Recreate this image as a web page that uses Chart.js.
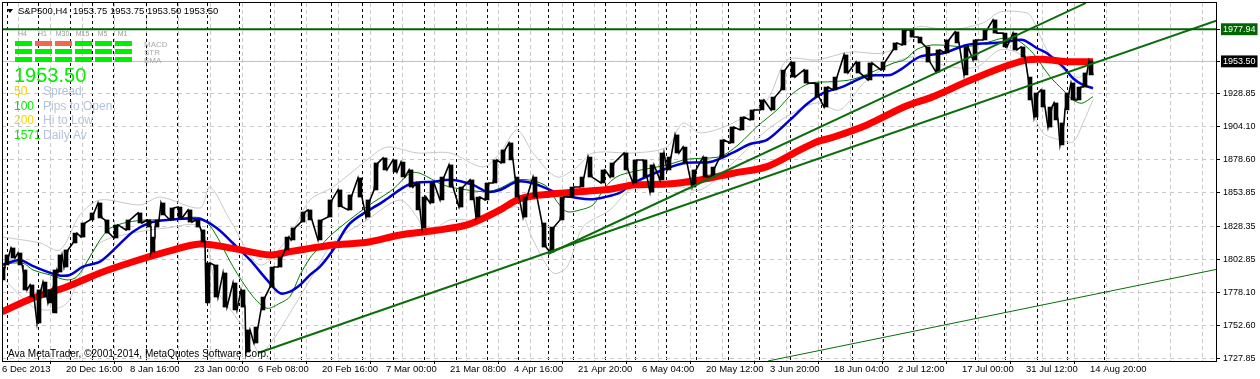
<!DOCTYPE html>
<html>
<head>
<meta charset="utf-8">
<title>S&amp;P500,H4</title>
<script src="https://cdn.jsdelivr.net/npm/chart.js@4.4.1/dist/chart.umd.min.js"></script>
<style>
  html, body { margin: 0; padding: 0; background: #fff; }
  #wrap { width: 1260px; height: 379px; }
</style>
</head>
<body>
<div id="wrap"><canvas id="chart" width="1260" height="379"></canvas></div>
<script>
// S&P500 H4 chart, MetaTrader style. x = bar position, y = price.

const timeLabels = ['6 Dec 2013', '20 Dec 16:00', '8 Jan 16:00', '23 Jan 00:00', '6 Feb 08:00',
    '20 Feb 16:00', '7 Mar 00:00', '21 Mar 08:00', '4 Apr 16:00', '21 Apr 20:00', '6 May 04:00',
    '20 May 12:00', '3 Jun 20:00', '18 Jun 04:00', '2 Jul 12:00', '17 Jul 00:00', '31 Jul 12:00',
    '14 Aug 20:00'];
const timeLabelBars = [2, 66, 130, 194, 258, 322, 386, 450, 514, 578, 642, 706, 770, 834, 898, 962, 1026, 1090];

// weekly period separators
const weekStarts = [7, 38, 70, 92, 113, 146, 177, 207, 239, 270, 301, 331, 362, 393, 424, 456, 487,
    518, 548, 573, 605, 635, 667, 697, 728, 759, 790, 821, 852, 883, 913, 944, 976, 1006, 1037, 1067, 1104];

const priceTicks = [1727.85, 1752.60, 1778.10, 1802.85, 1828.35, 1853.85, 1878.60, 1904.10, 1928.85];
const bidPrice = 1953.50;
const levelPrice = 1977.94;

// price: high / low of each group of bars
const priceBar = [3, 7, 13, 20, 25, 32, 39, 45, 50, 55,
    60, 66, 75, 83, 92, 100, 107, 116, 128, 140,
    149, 153, 157, 163, 172, 180, 190, 198, 203, 208,
    216, 225, 235, 243, 248, 256, 263, 272, 280, 287,
    293, 303, 310, 320, 330, 340, 350, 360, 368, 376,
    385, 395, 403, 411, 418, 424, 432, 442, 451, 461,
    472, 478, 487, 495, 503, 511, 517, 525, 535, 544,
    552, 562, 572, 582, 590, 603, 612, 626, 635, 645,
    652, 662, 669, 677, 685, 694, 705, 713, 722, 732,
    742, 752, 762, 773, 783, 793, 806, 817, 826, 835,
    846, 858, 870, 883, 895, 904, 912, 920, 928, 938,
    947, 957, 966, 975, 985, 995, 1005, 1015, 1023, 1030,
    1036, 1043, 1050, 1056, 1062, 1067, 1073, 1079, 1085, 1091];
const priceHigh = [1797.2, 1806.4, 1811.7, 1807.9, 1795.0, 1783.6, 1779.8, 1785.8, 1779.8, 1795.0,
    1806.4, 1810.2, 1823.0, 1830.7, 1838.3, 1845.9, 1833.0, 1829.2, 1833.0, 1838.3,
    1833.0, 1820.0, 1833.0, 1845.9, 1842.1, 1842.8, 1840.6, 1833.0, 1825.4, 1800.3,
    1798.8, 1792.7, 1785.1, 1779.8, 1749.4, 1751.6, 1774.4, 1797.2, 1804.8, 1820.0,
    1826.9, 1839.0, 1840.6, 1833.0, 1848.2, 1855.8, 1852.0, 1864.9, 1848.2, 1876.3,
    1880.1, 1878.6, 1877.0, 1871.0, 1861.1, 1850.4, 1861.1, 1865.6, 1874.8, 1858.0,
    1863.4, 1850.4, 1861.1, 1878.6, 1886.2, 1891.5, 1865.6, 1850.4, 1865.6, 1830.7,
    1827.6, 1850.4, 1858.0, 1865.6, 1880.8, 1871.0, 1876.3, 1883.9, 1878.6, 1878.6,
    1874.8, 1883.9, 1880.8, 1897.6, 1888.4, 1871.0, 1880.8, 1873.2, 1893.8, 1903.6,
    1911.2, 1916.6, 1924.2, 1926.4, 1946.9, 1953.0, 1947.0, 1937.0, 1934.0, 1941.6,
    1958.4, 1953.0, 1952.3, 1953.0, 1967.5, 1977.4, 1977.4, 1972.0, 1964.5, 1962.2,
    1969.8, 1975.9, 1964.5, 1969.8, 1977.4, 1985.0, 1975.0, 1975.0, 1964.5, 1941.6,
    1929.5, 1931.8, 1918.8, 1921.9, 1906.7, 1929.5, 1937.1, 1934.0, 1944.7, 1953.8];
const priceLow = [1787.4, 1798.8, 1804.1, 1798.8, 1779.8, 1774.4, 1754.7, 1774.4, 1769.9, 1762.3,
    1793.4, 1797.2, 1815.5, 1820.0, 1833.0, 1834.5, 1823.0, 1819.3, 1825.4, 1830.7,
    1827.6, 1808.6, 1827.6, 1836.8, 1833.0, 1834.5, 1831.4, 1827.6, 1816.2, 1769.9,
    1774.4, 1766.8, 1764.6, 1766.8, 1732.6, 1739.5, 1764.6, 1782.0, 1797.2, 1810.2,
    1817.8, 1831.4, 1833.0, 1817.8, 1835.2, 1843.0, 1840.6, 1850.4, 1835.2, 1855.8,
    1871.0, 1869.4, 1865.7, 1858.0, 1840.6, 1826.9, 1845.9, 1848.2, 1858.0, 1842.8,
    1848.2, 1835.2, 1848.2, 1861.1, 1876.3, 1878.6, 1850.4, 1835.2, 1850.4, 1812.4,
    1808.6, 1833.0, 1850.4, 1858.0, 1865.6, 1861.1, 1865.6, 1871.0, 1861.1, 1865.6,
    1854.2, 1863.4, 1871.0, 1883.9, 1876.3, 1858.0, 1865.6, 1865.6, 1880.8, 1891.5,
    1901.4, 1909.0, 1916.6, 1916.6, 1931.8, 1941.6, 1937.0, 1926.4, 1918.8, 1931.8,
    1944.7, 1944.7, 1939.4, 1947.0, 1962.2, 1966.0, 1972.0, 1967.5, 1953.0, 1945.4,
    1959.9, 1967.5, 1943.2, 1954.6, 1969.8, 1975.0, 1964.5, 1962.2, 1956.8, 1924.2,
    1911.2, 1918.8, 1903.6, 1909.0, 1890.0, 1916.6, 1924.2, 1924.2, 1934.0, 1943.2];

// slow moving average (thick red)
const slowMaBar = [2, 33, 67, 100, 133, 167, 200, 233, 270, 290, 310, 333, 367, 400, 433, 467, 500, 517,
    533, 567, 610, 633, 667, 700, 733, 767, 800, 817, 833, 867, 905, 933, 967, 1000, 1027, 1043, 1067, 1093];
const slowMa = [1763.2, 1773.7, 1782.3, 1792.7, 1801.2, 1808.9, 1814.7, 1811.4, 1806.4, 1808.9, 1811.4,
    1814.0, 1816.0, 1821.6, 1824.8, 1829.2, 1840.6, 1848.2, 1851.2, 1853.7, 1856.3, 1859.6, 1860.3,
    1863.4, 1868.5, 1873.5, 1886.2, 1892.4, 1895.8, 1905.2, 1919.2, 1926.7, 1938.1, 1948.3, 1954.6,
    1955.1, 1953.3, 1953.3];

// fast moving average (blue)
const fastMaBar = [2, 20, 33, 57, 70, 83, 100, 117, 133, 150, 167, 200, 217, 233, 250, 267, 280, 290, 300, 310,
    320, 333, 350, 383, 410, 433, 453, 473, 487, 500, 517, 533, 550, 567, 590, 605, 620, 633, 667, 687,
    710, 733, 750, 767, 790, 807, 823, 843, 867, 890, 900, 920, 943, 967, 990, 1007, 1023, 1037, 1047, 1063,
    1073, 1083, 1093];
const fastMa = [1798.8, 1802.6, 1797.9, 1791.2, 1791.2, 1797.5, 1801.3, 1812.7, 1824.1, 1830.9,
    1833.0, 1833.7, 1826.7, 1815.3, 1802.6, 1787.4, 1777.3, 1778.5, 1783.6, 1791.2,
    1797.5, 1810.2, 1830.5, 1846.9, 1860.3, 1862.1, 1863.4, 1859.6, 1854.5, 1855.8,
    1862.1, 1860.9, 1855.8, 1851.2, 1848.7, 1850.4, 1853.7, 1860.9, 1872.3, 1876.5,
    1877.0, 1884.1, 1890.7, 1893.8, 1909.0, 1921.1, 1929.3, 1934.3, 1942.4, 1943.2,
    1947.0, 1957.1, 1959.7, 1966.0, 1967.3, 1968.5, 1969.8, 1963.5, 1959.7, 1949.5,
    1940.7, 1935.6, 1933.1];

// short moving average (thin green)
const midMaBar = [2, 23, 33, 50, 67, 77, 90, 100, 110, 127, 147, 167, 200, 213, 233, 253, 267, 280, 290, 300,
    310, 317, 333, 367, 393, 410, 420, 443, 467, 487, 500, 517, 533, 547, 557, 567, 580, 593, 605, 617,
    633, 667, 687, 717, 727, 740, 757, 777, 793, 810, 833, 853, 877, 893, 905, 917, 933, 967, 990, 1003,
    1017, 1033, 1050, 1063, 1073, 1082, 1093];
const midMa = [1799.5, 1800.1, 1795.0, 1791.2, 1787.4, 1789.9, 1805.1, 1817.8, 1826.7, 1831.2,
    1833.0, 1833.0, 1834.7, 1825.4, 1797.5, 1774.7, 1765.9, 1769.7, 1774.7, 1791.2,
    1804.1, 1810.2, 1822.9, 1843.1, 1856.3, 1868.5, 1868.5, 1859.6, 1855.8, 1854.5,
    1857.1, 1863.4, 1862.8, 1858.3, 1846.9, 1839.3, 1840.6, 1844.4, 1857.7, 1865.9,
    1869.7, 1874.8, 1879.1, 1880.6, 1883.7, 1891.3, 1903.9, 1916.6, 1929.3, 1936.9,
    1938.1, 1939.9, 1947.0, 1952.1, 1954.9, 1962.7, 1966.0, 1964.7, 1968.5, 1971.1,
    1969.8, 1959.7, 1941.9, 1931.8, 1924.2, 1921.7, 1926.7];

// envelope bands (light grey)
const upperBandBar = [2, 40, 60, 80, 100, 140, 160, 200, 210, 230, 260, 290, 310, 333, 367, 387, 417, 450, 483, 500,
    517, 533, 557, 577, 593, 633, 667, 683, 700, 733, 767, 787, 817, 850, 883, 910, 917, 950, 983, 1000,
    1027, 1033, 1047, 1067, 1080, 1093];
const upperBand = [1820.1, 1815.5, 1810.2, 1836.8, 1848.2, 1844.4, 1850.4, 1842.1, 1858.0, 1833.0,
    1798.8, 1821.6, 1848.2, 1858.0, 1878.6, 1888.4, 1883.9, 1883.9, 1873.2, 1883.9,
    1901.4, 1883.9, 1865.6, 1873.2, 1883.9, 1883.9, 1888.4, 1906.7, 1899.1, 1906.7,
    1924.2, 1954.6, 1954.6, 1960.6, 1959.9, 1969.8, 1979.7, 1977.4, 1982.7, 1991.0,
    1990.3, 1985.0, 1962.2, 1944.7, 1941.6, 1952.3];
const lowerBandBar = [2, 33, 50, 67, 83, 100, 133, 167, 200, 217, 233, 250, 260, 273, 290, 310, 333, 367, 400, 417,
    427, 450, 483, 517, 533, 553, 567, 583, 610, 633, 667, 700, 733, 767, 793, 817, 840, 867, 910, 950,
    977, 1000, 1023, 1033, 1043, 1060, 1073, 1083, 1093];
const lowerBand = [1789.7, 1766.8, 1764.6, 1769.9, 1795.0, 1815.5, 1823.1, 1826.9, 1827.6, 1779.8,
    1762.3, 1744.0, 1731.9, 1741.8, 1762.3, 1787.4, 1815.5, 1833.0, 1848.2, 1835.2,
    1823.1, 1833.0, 1833.0, 1842.8, 1817.8, 1792.7, 1797.2, 1827.6, 1840.6, 1858.0,
    1861.1, 1855.8, 1876.3, 1901.4, 1914.3, 1921.9, 1916.6, 1939.4, 1956.8, 1949.3,
    1949.3, 1962.2, 1956.8, 1916.6, 1899.1, 1893.8, 1892.2, 1906.7, 1924.2];

// trend lines: [bar, price] at both ends
const supportLine = [[258, 1731.9], [1217, 1984.6]];
const steepLine = [[548, 1807.1], [1086, 1997.9]];
const lowLine = [[768, 1725.8], [1217, 1795.5]];

// info panel
const timeframes = ['H4', 'H1', 'M30', 'M15', 'M5', 'M1'];
const signalNames = ['MACD', 'STR', 'EMA'];
const signalStates = [[1, 0, 0, 1, 1, 1], [1, 1, 1, 1, 1, 1], [1, 1, 1, 1, 1, 1]];
const headerText = 'S&P500,H4  1953.75 1953.75 1953.50 1953.50';
const statRows = [['50', 'Spread', '#ffd200'], ['100', 'Pips to Open', '#00ee00'],
    ['200', 'Hi to Low', '#ffd200'], ['1571', 'Daily Av', '#00ee00']];

const barMin = 2, barMax = 1217;
const priceMin = 1725.8, priceMax = 1997.87;

const toPoints = (bars, vals) => bars.map((b, i) => ({ x: b, y: vals[i] }));
const pairPoints = line => line.map(([b, v]) => ({ x: b, y: v }));

// zigzag through each group's range so the trace reads like dense OHLC bars
const priceTrace = [];
priceBar.forEach((b, i) => {
    const mid = (priceHigh[i] + priceLow[i]) / 2;
    const nextMid = i + 1 < priceBar.length ? (priceHigh[i + 1] + priceLow[i + 1]) / 2 : mid;
    const up = nextMid > mid;
    priceTrace.push({ x: b - 2, y: up ? priceLow[i] : priceHigh[i] });
    priceTrace.push({ x: b + 2, y: up ? priceHigh[i] : priceLow[i] });
});

function lineSet(label, data, color, width, order, extra) {
    return Object.assign({
        type: 'line', label, data, borderColor: color, borderWidth: width,
        pointRadius: 0, fill: false, tension: 0, order
    }, extra || {});
}

const trendGreen = '#0b6e0b';
const sans = '"Liberation Sans", Arial, sans-serif';
const xFont = { family: sans, size: 9.5, lineHeight: 1 };
const yFont = { family: sans, size: 9, lineHeight: 1.1 };
const isMarked = v => v === bidPrice || v === levelPrice;

const panelPlugin = {
    id: 'mtPanel',
    afterDatasetsDraw(chart) {
        const { ctx, chartArea: a } = chart;
        ctx.save();

        ctx.strokeStyle = '#000';
        ctx.lineWidth = 1;
        ctx.strokeRect(a.left + 0.5, a.top - 0.5, a.right - a.left - 1, a.bottom - a.top + 1);

        // header
        ctx.fillStyle = '#000';
        ctx.beginPath();
        ctx.moveTo(7, 9); ctx.lineTo(13, 9); ctx.lineTo(10, 13);
        ctx.closePath(); ctx.fill();
        ctx.font = '9.5px ' + sans;
        ctx.textBaseline = 'alphabetic';
        ctx.fillText(headerText, 18, 14);

        // signal matrix
        ctx.font = '7px ' + sans;
        ctx.fillStyle = '#9a9a9a';
        ctx.textAlign = 'center';
        timeframes.forEach((tf, c) => ctx.fillText(tf, 22.5 + 20 * c, 36));
        signalStates.forEach((row, r) => {
            row.forEach((s, c) => {
                ctx.fillStyle = s ? '#00ee00' : '#f2684a';
                ctx.fillRect(15 + 20 * c, 41 + 8 * r, 17, 5);
            });
        });
        ctx.textAlign = 'left';
        ctx.fillStyle = '#a8a8a8';
        ctx.font = '8px ' + sans;
        signalNames.forEach((n, r) => ctx.fillText(n, 144, 46.5 + 8 * r));

        // big bid
        ctx.font = '20px ' + sans;
        ctx.fillStyle = '#00ee00';
        ctx.fillText(bidPrice.toFixed(2), 14, 82);

        ctx.font = '12px ' + sans;
        statRows.forEach(([num, text, color], r) => {
            const y = 95 + 14.7 * r;
            ctx.fillStyle = color;
            ctx.fillText(num, 14, y);
            ctx.fillStyle = '#b4c4de';
            ctx.fillText(text, 43, y);
        });

        ctx.font = '10px ' + sans;
        ctx.fillStyle = '#000';
        ctx.fillText('Ava MetaTrader, \u00a92001-2014, MetaQuotes Software Corp.', 8, 357);
        ctx.restore();
    }
};

const datasets = [
    lineSet('Level', [{ x: barMin, y: levelPrice }, { x: barMax, y: levelPrice }], '#006400', 2, 0),
    lineSet('Support', pairPoints(supportLine), trendGreen, 2, 0),
    lineSet('Steep', pairPoints(steepLine), trendGreen, 2, 0),
    lineSet('Low', pairPoints(lowLine), trendGreen, 1, 0),
    lineSet('Price', priceTrace, '#000', 1.6, 1),
    {
        type: 'bar', label: 'Range', order: 1,
        data: priceBar.map((b, i) => ({ x: b, y: [priceLow[i], priceHigh[i]] })),
        backgroundColor: '#000', barThickness: 4, grouped: false
    },
    lineSet('Slow MA', toPoints(slowMaBar, slowMa), '#ff0000', 7, 2, { tension: 0.3 }),
    lineSet('Fast MA', toPoints(fastMaBar, fastMa), '#0000d0', 2.5, 3, { tension: 0.3 }),
    lineSet('Mid MA', toPoints(midMaBar, midMa), '#008000', 1, 4, { tension: 0.3 }),
    lineSet('Upper', toPoints(upperBandBar, upperBand), '#c8c8c8', 1, 5, { tension: 0.3 }),
    lineSet('Lower', toPoints(lowerBandBar, lowerBand), '#c8c8c8', 1, 5, { tension: 0.3 }),
    lineSet('Bid', [{ x: barMin, y: bidPrice }, { x: barMax, y: bidPrice }], '#c0c0c0', 1, 6)
];

const gridBars = [];
for (let v = timeLabelBars[0]; v < barMax; v += (timeLabelBars[1] - timeLabelBars[0]) / 2) gridBars.push(v);

new Chart(document.getElementById('chart').getContext('2d'), {
    type: 'line',
    data: { datasets },
    plugins: [panelPlugin],
    options: {
        responsive: false,
        animation: false,
        layout: { padding: { left: 2, top: 3, right: 0, bottom: 0 } },
        plugins: { legend: { display: false }, tooltip: { enabled: false } },
        scales: {
            x: {
                type: 'linear', min: barMin, max: barMax, offset: false,
                afterBuildTicks: s => { s.ticks = gridBars.map(v => ({ value: v })); },
                afterFit: s => { s.height = 18; s.paddingLeft = 0; s.paddingRight = 0; },
                grid: {
                    color: '#c8c8c8', lineWidth: 1, drawTicks: true, tickLength: 3,
                    tickColor: ctx => timeLabelBars.includes(ctx.tick && ctx.tick.value) ? '#000' : 'rgba(0,0,0,0)',
                    tickBorderDash: []
                },
                border: { display: false, dash: [4, 3] },
                ticks: {
                    autoSkip: false, maxRotation: 0, align: 'start', padding: 1, color: '#000', font: xFont,
                    callback: v => {
                        const i = timeLabelBars.indexOf(v);
                        return i >= 0 ? timeLabels[i] : '';
                    }
                }
            },
            weeks: {
                type: 'linear', position: 'bottom', min: barMin, max: barMax, offset: false,
                afterBuildTicks: s => { s.ticks = weekStarts.map(v => ({ value: v })); },
                afterFit: s => { s.height = 0; s.paddingLeft = 0; s.paddingRight = 0; },
                grid: { color: '#000', lineWidth: 1, drawTicks: false },
                border: { display: false, dash: [3, 3] },
                ticks: { display: false }
            },
            y: {
                position: 'right', min: priceMin, max: priceMax,
                afterBuildTicks: s => { s.ticks = priceTicks.concat([bidPrice, levelPrice]).map(v => ({ value: v })); },
                afterFit: s => { s.width = 43; s.paddingTop = 0; s.paddingBottom = 0; },
                grid: {
                    color: ctx => ctx.tick && ctx.tick.value === levelPrice ? 'rgba(0,0,0,0)' : '#c8c8c8',
                    drawTicks: true, tickLength: 3, tickColor: '#000', tickBorderDash: []
                },
                border: { display: false, dash: [4, 4] },
                ticks: {
                    padding: 3, font: yFont,
                    color: ctx => isMarked(ctx.tick.value) ? '#fff' : '#000',
                    showLabelBackdrop: ctx => isMarked(ctx.tick.value),
                    backdropColor: ctx => ctx.tick.value === levelPrice ? '#006400' : '#000',
                    backdropPadding: { x: 2, y: 1 },
                    callback: v => v.toFixed(2)
                }
            }
        }
    }
});
</script>
</body>
</html>
